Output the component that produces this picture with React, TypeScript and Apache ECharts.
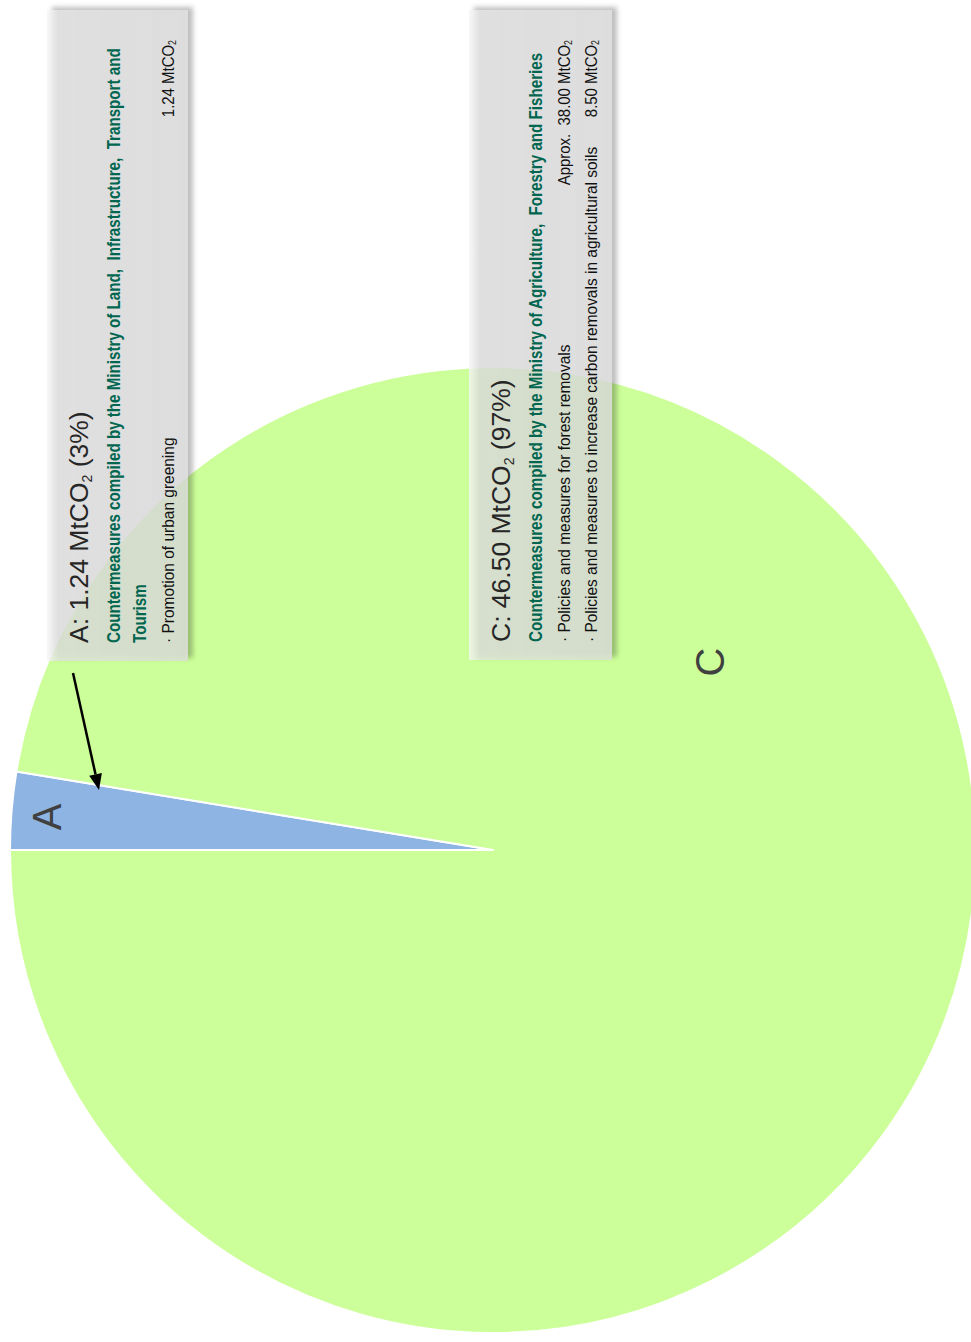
import React, { useEffect, useRef } from 'react';
import * as echarts from 'echarts';

// Carbon removal shares (MtCO2) by responsible ministry group
const categories = ['A', 'C'];
const removals = [1.24, 46.5];
const sliceColors = ['#8DB4E2', '#CCFF99'];

// Notes shown in the two callout boxes
const headingLines = [
  ['Countermeasures compiled by the Ministry of Land,  Infrastructure,  Transport and', 'Tourism'],
  ['Countermeasures compiled by the Ministry of Agriculture,  Forestry and Fisheries'],
];
const measureLabels = [
  ['Promotion of urban greening'],
  ['Policies and measures for forest removals', 'Policies and measures to increase carbon removals in agricultural soils'],
];
const measureAmounts = [
  ['1.24'],
  ['Approx.  38.00', '8.50'],
];

const FONT = '"Liberation Sans", Arial, Helvetica, sans-serif';
const GREEN_TEXT = '#00664F';
const DARK_TEXT = '#262626';

const total = removals.reduce((a, b) => a + b, 0);

function calloutBox(i: number, left: number, top: number, width: number, height: number) {
  const pct = Math.round((removals[i] / total) * 100);
  const rect = {
    type: 'rect',
    z: 100,
    shape: { x: left, y: top, width, height },
    style: {
      fill: new echarts.graphic.LinearGradient(0, 0, 1, 0, [
        { offset: 0, color: 'rgba(246,246,246,0.8)' },
        { offset: 0.08, color: 'rgba(224,224,224,0.76)' },
        { offset: 1, color: 'rgba(220,220,220,0.78)' },
      ]),
      shadowBlur: 5,
      shadowOffsetX: 5,
      shadowOffsetY: -3,
      shadowColor: 'rgba(0,0,0,0.32)',
    },
  };

  const children: any[] = [];
  // title with subscript
  children.push({
    type: 'text',
    x: 18,
    y: 32,
    style: {
      text: `{m|${categories[i]}: ${removals[i].toFixed(2)} MtCO}{s|2}{m| (${pct}%)}`,
      rich: {
        m: { fontSize: 26.5, fontFamily: FONT, fill: DARK_TEXT, lineHeight: 30 },
        s: { fontSize: 14, fontFamily: FONT, fill: DARK_TEXT, verticalAlign: 'bottom', lineHeight: 16 },
      },
      align: 'left',
      verticalAlign: 'middle',
    },
  });
  const headingY = [67, 93];
  headingLines[i].forEach((line, k) => {
    children.push({
      type: 'text',
      x: 18,
      y: headingY[k],
      scaleX: 0.82,
      style: {
        text: line,
        fontSize: 18.5,
        fontWeight: 'bold',
        fontFamily: FONT,
        fill: GREEN_TEXT,
        align: 'left',
        verticalAlign: 'middle',
      },
    });
  });
  const itemsStart = i === 0 ? 121 : 95;
  measureLabels[i].forEach((label, k) => {
    const y = itemsStart + k * 27;
    children.push({
      type: 'text',
      x: 18,
      y,
      scaleX: 0.91,
      style: {
        text: '\u00B7 ' + label,
        fontSize: 17,
        fontFamily: FONT,
        fill: '#111',
        align: 'left',
        verticalAlign: 'middle',
      },
    });
    children.push({
      type: 'text',
      x: height - 30,
      y,
      scaleX: 0.88,
      style: {
        text: `{m|${measureAmounts[i][k]} MtCO}{s|2}`,
        rich: {
          m: { fontSize: 17, fontFamily: FONT, fill: '#111', lineHeight: 18 },
          s: { fontSize: 10, fontFamily: FONT, fill: '#111', verticalAlign: 'bottom', lineHeight: 12 },
        },
        align: 'right',
        verticalAlign: 'middle',
      },
    });
  });

  const group = {
    type: 'group',
    x: left,
    y: top + height,
    rotation: Math.PI / 2,
    z: 101,
    children: children.map((c) => ({ ...c, z: 101 })),
  };
  return [rect, group];
}

function arrow(x1: number, y1: number, x2: number, y2: number) {
  const ang = Math.atan2(y2 - y1, x2 - x1);
  const len = 16;
  const half = 6.5;
  const bx = x2 - len * Math.cos(ang);
  const by = y2 - len * Math.sin(ang);
  const nx = -Math.sin(ang);
  const ny = Math.cos(ang);
  return [
    {
      type: 'line',
      z: 102,
      shape: { x1, y1, x2: bx, y2: by },
      style: { stroke: '#000', lineWidth: 2.5 },
    },
    {
      type: 'polygon',
      z: 102,
      shape: {
        points: [
          [x2, y2],
          [bx + nx * half, by + ny * half],
          [bx - nx * half, by - ny * half],
        ],
      },
      style: { fill: '#000' },
    },
  ];
}

function sliceLetter(text: string, x: number, y: number) {
  return {
    type: 'text',
    z: 50,
    x,
    y,
    rotation: Math.PI / 2,
    style: {
      text,
      fontSize: 40,
      fontFamily: FONT,
      fill: '#404040',
      align: 'center',
      verticalAlign: 'middle',
    },
  };
}

export default function App() {
  const ref = useRef<HTMLDivElement>(null);

  useEffect(() => {
    document.body.style.margin = '0';
    if (!ref.current) return;
    const chart = echarts.init(ref.current, undefined, { renderer: 'svg' });
    chart.setOption({
      animation: false,
      backgroundColor: '#ffffff',
      series: [
        {
          type: 'pie',
          center: [493, 850],
          radius: 483,
          startAngle: 180,
          clockwise: true,
          silent: true,
          label: { show: false },
          labelLine: { show: false },
          itemStyle: { borderColor: '#ffffff', borderWidth: 2 },
          data: categories.map((name, i) => ({
            name,
            value: removals[i],
            itemStyle: { color: sliceColors[i] },
          })),
        },
      ],
      graphic: [
        sliceLetter(categories[0], 47, 817),
        sliceLetter(categories[1], 710, 662),
        ...calloutBox(0, 47, 10, 141, 651),
        ...calloutBox(1, 469, 10, 143, 650),
        ...arrow(73, 673, 99, 790),
      ],
    });
    return () => chart.dispose();
  }, []);

  return <div ref={ref} style={{ width: 971, height: 1342 }} />;
}
